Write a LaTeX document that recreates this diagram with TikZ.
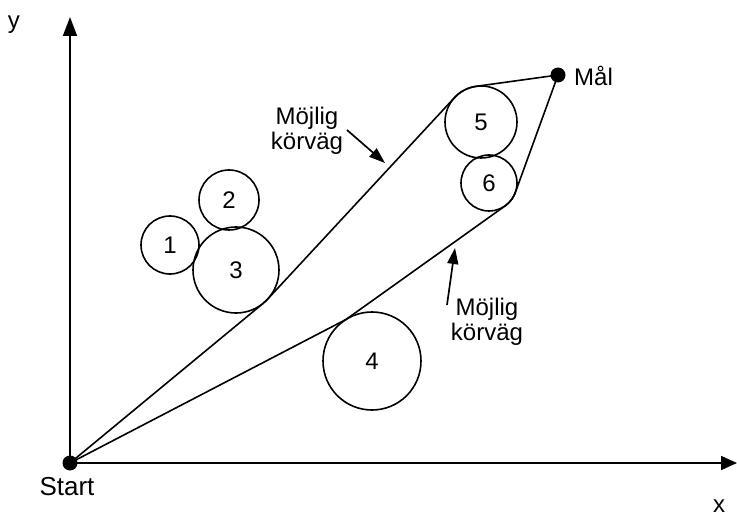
\documentclass[tikz,border=0pt]{standalone}
\usepackage{fontspec}
\setmainfont{Liberation Sans}
\usetikzlibrary{arrows.meta,calc}
\begin{document}
\begin{tikzpicture}[x=1pt,y=1pt,
  obst/.style={circle, draw, line width=1.6pt, inner sep=0pt, font=\fontsize{24}{25}\selectfont},
  lbl/.style={font=\fontsize{24}{25}\selectfont, align=center, inner sep=0pt},
  dot/.style={circle, fill, inner sep=0pt, minimum size=15pt},
  pathline/.style={line width=1.6pt, line join=round},
  callout/.style={line width=1.7pt, -{Triangle[length=16pt,width=11pt]}},
  axis/.style={line width=1.7pt, -{Triangle[length=19pt,width=14pt]}}
]
\useasboundingbox (0,0) rectangle (737,515);
% axes
\node[dot] (start) at (70,52) {};
\node[dot] (goal) at (558,440) {};
\coordinate (ytip) at (70,498);
\coordinate (xtip) at (737,52);
\draw[axis] (start.center) -- (ytip);
\draw[axis, -{Triangle[length=16pt,width=14pt]}] (start.center) -- (xtip);
\node[lbl] (ylab) at (14,490) {y};
\node[lbl, anchor=base] (xlab) at (719,3) {x};
\node[lbl, anchor=base, font=\fontsize{26}{27}\selectfont] (startlab) at (67,20) {Start};
\node[lbl, anchor=base west] (goallab) at (574,429) {Mål};
% obstacles
\node[obst, minimum size=58pt] (o1) at (170,270) {1};
\node[obst, minimum size=60pt] (o2) at (229,315) {2};
\node[obst, minimum size=86pt] (o3) at (236,245) {3};
\node[obst, minimum size=98pt] (o4) at (372,154) {4};
\node[obst, minimum size=72pt] (o5) at (481,393) {5};
\node[obst, minimum size=56pt] (o6) at (489,332) {6};
% upper route
\draw[pathline] (start.center) -- ($(o3.center)+(-50.4:43)$)
  arc[start angle=-50.4, end angle=-42.9, radius=43]
  -- ($(o5.center)+(137.1:36)$)
  arc[start angle=137.1, end angle=97.9, radius=36]
  -- (goal.center);
% lower route
\draw[pathline] (start.center) -- ($(o4.center)+(122:49)$)
  -- ($(o6.center)+(-54.5:28)$)
  arc[start angle=-54.5, end angle=-20, radius=28]
  -- (goal.center);
% callouts
\node[lbl] (up) at (307,384) {Möjlig\\körväg};
\node[lbl] (lo) at (487,193) {Möjlig\\körväg};
\coordinate (upa) at (347,385);
\coordinate (upt) at (385,352);
\coordinate (loa) at (447,210);
\coordinate (lot) at (455,267);
\draw[callout] (upa) -- (upt);
\draw[callout] (loa) -- (lot);
\end{tikzpicture}
\end{document}
